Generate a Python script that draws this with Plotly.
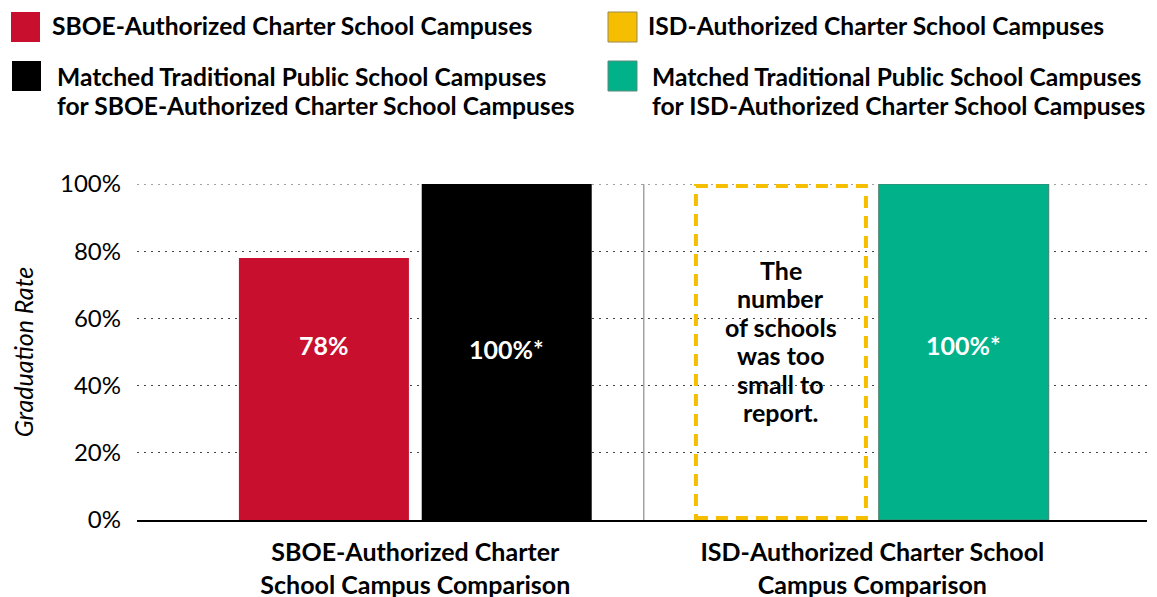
import plotly.graph_objects as go

# ---- data ----
groups = ["SBOE-Authorized Charter<br>School Campus Comparison",
          "ISD-Authorized Charter School<br>Campus Comparison"]
charter_names = ["SBOE-Authorized Charter School Campuses",
                 "ISD-Authorized Charter School Campuses"]
matched_names = ["Matched Traditional Public School Campuses<br>for SBOE-Authorized Charter School Campuses",
                 "Matched Traditional Public School Campuses<br>for ISD-Authorized Charter School Campuses"]
charter_values = [78, None]
matched_values = [100, 100]
charter_labels = ["78%", None]
matched_labels = ["100%*", "100%*"]
missing_note = "The<br>number<br>of schools<br>was too<br>small to<br>report."
y_ticks = [0, 20, 40, 60, 80, 100]
y_ticktext = ["0%", "20%", "40%", "60%", "80%", "100%"]
y_title = "Graduation Rate"

charter_colors = ["#C8102E", "#F6BE00"]
matched_colors = ["#000000", "#00B189"]

FONT = "Lato"
OFF = 8  # page body margin
W, H = 1157 - OFF, 597 - OFF
# plot area in page pixels: x 137..1147, y 184..520
L, T = 137 - OFF, 184 - OFF
R = W - (1147 - OFF)
B = H - (520 - OFF)
PW, PH = W - L - R, H - T - B

def px(x):
    return (x - OFF - L) / PW

def py(y):
    return (H - B - (y - OFF)) / PH

BAR_W = 0.372
OFF_L = -0.386
OFF_R = 0.014

fig = go.Figure()
xs = list(range(len(groups)))

# dotted gridline at the top of the range
fig.add_shape(type="line", xref="paper", yref="y", x0=0, x1=1, y0=y_ticks[-1], y1=y_ticks[-1],
              line=dict(color="#444444", width=1, dash="2px,5px"), layer="below")

for i, x in enumerate(xs):
    if charter_values[i] is not None:
        fig.add_trace(go.Bar(x=[x], y=[charter_values[i]], width=BAR_W, offset=OFF_L,
                             marker=dict(color=charter_colors[i], line=dict(width=0)),
                             name=charter_names[i], showlegend=False, hoverinfo="skip"))
        fig.add_annotation(x=x + OFF_L + BAR_W / 2, y=52, text=charter_labels[i], showarrow=False,
                           font=dict(family=FONT, size=25, color="white", weight="bold"))
    else:
        fig.add_shape(type="rect", xref="x", yref="y", x0=x + OFF_L, x1=x + OFF_L + BAR_W,
                      y0=0.6, y1=99.4, line=dict(color=charter_colors[i], width=4, dash="12px,8px"),
                      fillcolor="rgba(0,0,0,0)")
        note_lines = missing_note.split("<br>")
        n = len(note_lines)
        for k, line in enumerate(note_lines):
            fig.add_annotation(x=x + OFF_L + BAR_W / 2, y=53.3, yshift=((n - 1) / 2 - k) * 28.4,
                               text=line, showarrow=False,
                               font=dict(family=FONT, size=25, color="black", weight="bold"))
    fig.add_trace(go.Bar(x=[x], y=[matched_values[i]], width=BAR_W, offset=OFF_R,
                         marker=dict(color=matched_colors[i],
                                     line=dict(width=1 if i == 1 else 0, color="#4a7d6e")),
                         name=matched_names[i], showlegend=False, hoverinfo="skip"))
    fig.add_annotation(x=x + OFF_R + BAR_W / 2, y=51 if i == 0 else 52, text=matched_labels[i],
                       showarrow=False,
                       font=dict(family=FONT, size=25, color="white", weight="bold"))

# separator
fig.add_shape(type="line", xref="x", yref="y", x0=0.5, x1=0.5, y0=0, y1=100,
              line=dict(color="#777777", width=1), layer="below")

# custom legend (page pixel positions)
legend_items = [
    (charter_names[0], charter_colors[0], 11, 12, 50, [26], "rgba(0,0,0,0)"),
    (charter_names[1], charter_colors[1], 608, 12, 646, [26], "#9a8a50"),
    (matched_names[0], matched_colors[0], 12, 61, 55, [76, 106], "rgba(0,0,0,0)"),
    (matched_names[1], matched_colors[1], 608, 61, 650, [76, 106], "#5a8a7a"),
]
for name, color, sx, sy, tx, line_ys, edge in legend_items:
    fig.add_shape(type="rect", xref="paper", yref="paper", x0=px(sx), x1=px(sx + 29),
                  y0=py(sy), y1=py(sy + 30), fillcolor=color, line=dict(width=1, color=edge))
    for text, ly in zip(name.split("<br>"), line_ys):
        fig.add_annotation(xref="paper", yref="paper", x=px(tx), y=py(ly),
                           xanchor="left", yanchor="middle", align="left", text=text,
                           showarrow=False,
                           font=dict(family=FONT, size=24.6, color="black", weight="bold"))

fig.update_layout(
    width=W, height=H,
    margin=dict(l=L, r=R, t=T, b=B, autoexpand=False),
    plot_bgcolor="white", paper_bgcolor="white",
    barmode="overlay",
    showlegend=False,
    xaxis=dict(range=[-0.609, 1.601], tickvals=xs, ticktext=groups, showgrid=False,
               zeroline=False, showline=True, linecolor="black", linewidth=2,
               ticks="", ticklabelstandoff=9, automargin=False,
               tickfont=dict(family=FONT, size=25, color="black", weight="bold")),
    yaxis=dict(range=[0, 100], tickvals=y_ticks, ticktext=y_ticktext, showgrid=True,
               gridcolor="#444444", griddash="2px,5px", gridwidth=1, zeroline=False,
               showline=False, ticks="", ticklabelstandoff=15, automargin=False,
               tickfont=dict(family=FONT, size=24, color="black"),
               title=dict(text=y_title, standoff=24,
                          font=dict(family=FONT, size=25, color="black", style="italic"))),
)

fig.write_html("out.html")
